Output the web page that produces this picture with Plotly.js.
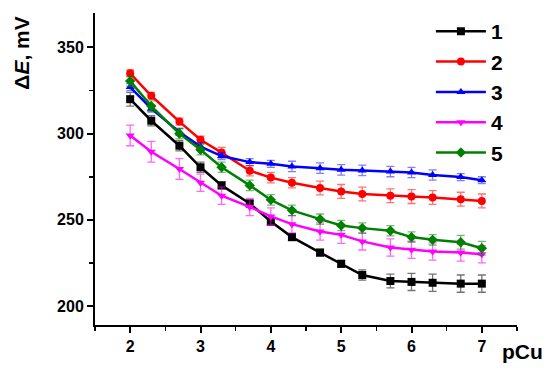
<!DOCTYPE html>
<html><head><meta charset="utf-8">
<script src="https://cdn.plot.ly/plotly-3.0.1.min.js"></script>
<style>html,body{margin:0;padding:0;background:#fff}#chart{width:550px;height:375px}</style>
</head><body><div id="chart"></div>
<script>
const pCu = [2, 2.3, 2.7, 3, 3.3, 3.7, 4, 4.3, 4.7, 5, 5.3, 5.7, 6, 6.3, 6.7, 7];
const s1 = [320, 307.5, 293, 280.5, 270, 259.5, 249, 240, 231, 224.5, 218, 214.5, 214, 213.5, 213, 213];
const s2 = [335, 322, 307, 296.5, 289, 278.5, 274.5, 271.5, 268.5, 266.5, 265, 264, 263.5, 263, 262, 261];
const s3 = [327, 314.5, 301, 292.5, 287, 283.5, 282.5, 281, 280, 279, 278.7, 278, 277.5, 276, 274.8, 273];
const s4 = [299, 289.5, 279.5, 271.5, 264, 257.5, 252, 247.5, 243.2, 241.3, 237.5, 234, 232.6, 231.6, 231, 230];
const s5 = [330.5, 316, 300, 290.7, 280.5, 270, 261.6, 255.5, 250.4, 246.7, 245.2, 243.7, 240, 238.4, 237, 233.5];
const e1 = [4, 3, 3, 3, 2, 2, 2, 2, 2, 2, 3, 4, 5, 5, 5, 5];
const e2 = [2, 2, 2, 2, 3, 3, 3, 3, 4, 4, 4, 4, 4, 4, 4, 4];
const e3 = [2, 2, 2, 2, 2, 2, 2, 3, 3, 3, 3, 3, 3, 3, 2, 2];
const e4 = [6, 6, 6, 5, 5, 5, 5, 5, 5, 5, 5, 5, 5, 5, 5, 5];
const e5 = [3, 3, 3, 3, 3, 3, 3, 3, 3, 3, 3, 3, 3, 3, 4, 4];
const names = ['1', '2', '3', '4', '5'];

const series = [s1, s2, s3, s4, s5];
const errs = [e1, e2, e3, e4, e5];
const colors = ['#000000', '#ff0000', '#0000ff', '#ff00ff', '#008000'];
const ecolors = ['rgba(0,0,0,0.55)', 'rgba(255,0,0,0.55)', 'rgba(0,0,255,0.5)', 'rgba(255,0,255,0.6)', 'rgba(0,128,0,0.55)'];
const symbols = ['square', 'circle', 'triangle-up', 'triangle-down', 'diamond'];

const traces = series.map((s, i) => ({
  x: pCu, y: s, name: names[i], type: 'scatter', mode: 'lines+markers',
  line: {color: colors[i], width: 2.5},
  marker: {color: colors[i], symbol: symbols[i], size: 8},
  error_y: {type: 'data', array: errs[i], visible: true, color: ecolors[i], thickness: 1.3, width: 4},
  legendgroup: 'g' + i
}));

const fontFam = 'Arial, "Liberation Sans", sans-serif';
const layout = {
  width: 550, height: 375,
  margin: {l: 95, r: 33, t: 13, b: 50, autoexpand: false},
  paper_bgcolor: '#fff', plot_bgcolor: '#fff',
  font: {family: fontFam, color: '#000'},
  showlegend: true,
  legend: {x: 0.796, y: 1.006, xanchor: 'left', yanchor: 'top', bgcolor: 'rgba(0,0,0,0)',
           font: {size: 21, family: fontFam, weight: 'bold', color: '#000'},
           traceorder: 'grouped', tracegroupgap: 0, itemwidth: 50},
  xaxis: {range: [1.5, 7.5], showgrid: false, zeroline: false, showline: true, linecolor: '#000', linewidth: 2,
          ticks: 'outside', ticklen: 6, tickwidth: 2, tickcolor: '#000', dtick: 1, tick0: 0,
          tickfont: {size: 16, family: fontFam, weight: 'bold'},
          minor: {ticks: 'outside', dtick: 0.5, ticklen: 4, tickwidth: 1.5, tickcolor: '#000', showgrid: false}},
  yaxis: {range: [189, 370], showgrid: false, zeroline: false, showline: true, linecolor: '#000', linewidth: 2,
          ticks: 'outside', ticklen: 6, tickwidth: 2, tickcolor: '#000', dtick: 50, tick0: 0,
          tickfont: {size: 16, family: fontFam, weight: 'bold'},
          minor: {ticks: 'outside', dtick: 25, ticklen: 4, tickwidth: 1.5, tickcolor: '#000', showgrid: false}},
  annotations: [
    {xref: 'paper', yref: 'paper', x: -0.175, y: 0.87, xanchor: 'center', yanchor: 'middle', textangle: -90,
     text: '\u0394<i>E</i>, mV', showarrow: false, font: {size: 21, family: fontFam, weight: 'bold', color: '#000'}},
    {xref: 'paper', yref: 'paper', x: 1.012, y: -0.085, xanchor: 'center', yanchor: 'middle',
     text: 'pCu', showarrow: false, font: {size: 21, family: fontFam, weight: 'bold', color: '#000'}}
  ]
};
Plotly.newPlot('chart', traces, layout, {displayModeBar: false, staticPlot: true});
</script></body></html>
